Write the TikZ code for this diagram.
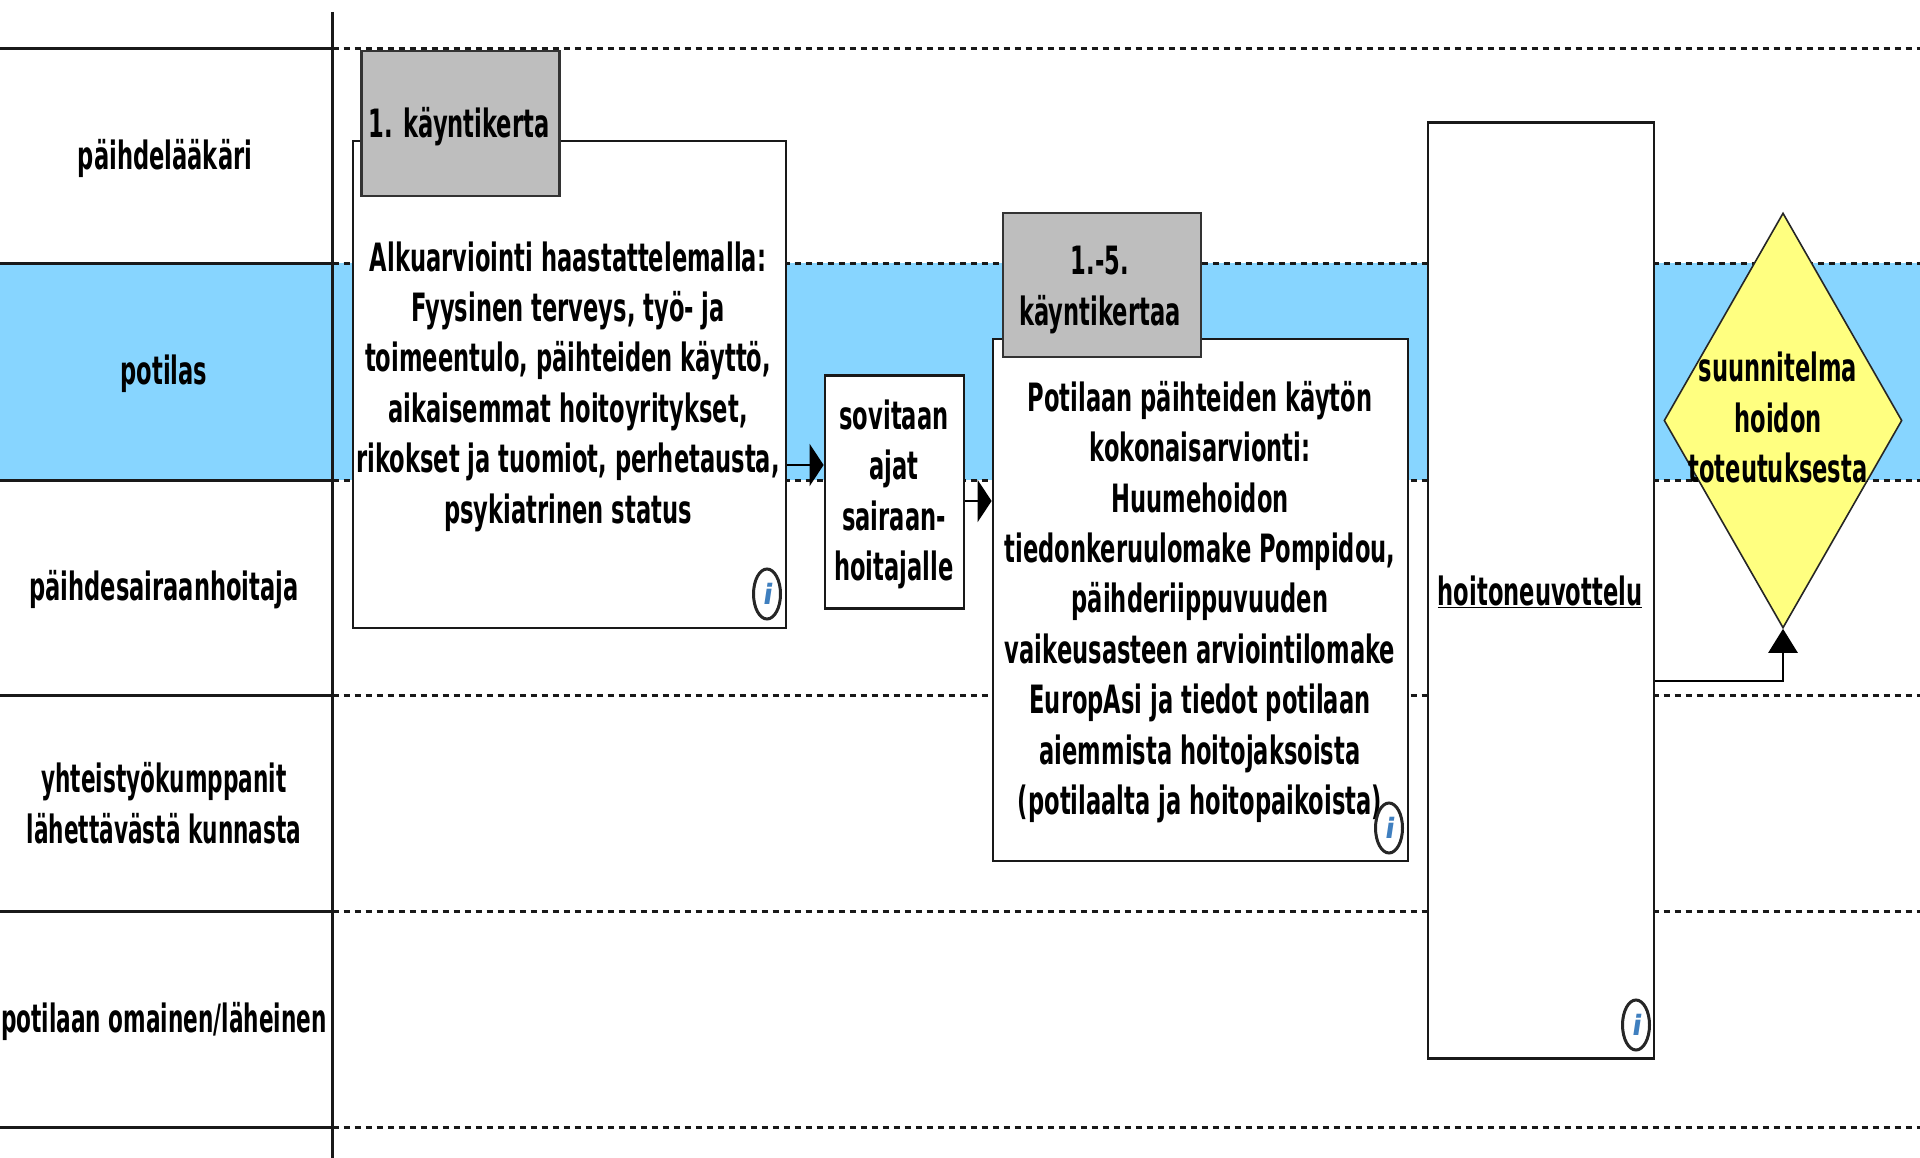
\documentclass[tikz,border=0pt]{standalone}
\usepackage{fontspec}
\usetikzlibrary{arrows.meta,shapes.geometric}
\newfontfamily\flowfont[FakeStretch=0.58]{DejaVu Sans Bold}
\newfontfamily\narrowfont[FakeStretch=0.555]{DejaVu Sans Bold}
\newfontfamily\infofont[FakeSlant=0.15]{DejaVu Sans Bold}
\definecolor{bandblue}{HTML}{87D5FF}
\definecolor{graybox}{HTML}{BEBEBE}
\definecolor{decisionyellow}{HTML}{FFFF80}
\definecolor{infoblue}{HTML}{3F7FBF}
\tikzset{
  x=1pt,y=-1pt,
  txt/.style={font=\flowfont\fontsize{39}{50.4}\selectfont,align=center,inner sep=0pt,text=black},
  lanelabel/.style={txt},
  narrowlabel/.style={txt,font=\narrowfont\fontsize{39}{50.4}\selectfont},
  solidrule/.style={line width=3pt,draw=black!90},
  dashrule/.style={line width=3pt,draw=black!90,dash pattern=on 6.5pt off 4.5pt},
  taskbox/.style={draw=black!90,fill=white,line width=2.8pt,rectangle,inner sep=0pt,minimum width=#1},
  graytab/.style={draw=black!80,fill=graybox,line width=2.8pt,rectangle,inner sep=0pt,minimum width=198pt,minimum height=#1},
  infoicon/.style={ellipse,draw=black!85,fill=white,line width=3pt,inner sep=0pt,minimum width=27pt,minimum height=50pt,font=\infofont\fontsize{28}{28}\selectfont,text=infoblue},
  sidearrow/.style={line width=2.6pt,-{Triangle[length=14pt,width=42pt]}},
  uparrow/.style={line width=2.6pt,-{Triangle[length=24pt,width=29pt]}},
}
\begin{document}
\begin{tikzpicture}
\useasboundingbox (0,0) rectangle (1920,1158);
\fill[white] (0,0) rectangle (1920,1158);
\fill[bandblue] (0,263.5) rectangle (1920,480);

\coordinate (topv) at (332.5,12);
\coordinate (botv) at (332.5,1158);
\draw[solidrule] (topv) -- (botv);
\foreach \n/\y in {a/49,b/263.5,c/480,d/695.5,e/911,f/1127}{
  \coordinate (l\n) at (0,\y);
  \coordinate (m\n) at (332.5,\y);
  \coordinate (r\n) at (1920,\y);
  \draw[solidrule] (l\n) -- (m\n);
  \draw[dashrule] (m\n) -- (r\n);
}

\node[lanelabel] (lane1) at (165,158) {päihdelääkäri};
\node[lanelabel] (lane2) at (164,374) {potilas};
\node[lanelabel] (lane3) at (164,590) {päihdesairaanhoitaja};
\node[narrowlabel] (lane4) at (164,803) {yhteistyökumppanit\\lähettävästä kunnasta};
\node[narrowlabel] (lane5) at (164,1021) {potilaan omainen/läheinen};

\node[taskbox=433pt,minimum height=487pt] (alku) at (569.5,384.5) {};
\node[txt] (alkutext) at (568,386.5) {Alkuarviointi haastattelemalla:\\Fyysinen terveys, työ- ja\\toimeentulo, päihteiden käyttö,\\aikaisemmat hoitoyritykset,\\rikokset ja tuomiot, perhetausta,\\psykiatrinen status};
\node[graytab=145pt] (tab1) at (460.5,123.5) {};
\node[txt] (tab1text) at (459,127) {1. käyntikerta};
\node[infoicon] (info1) at (767,594) {i};

\node[taskbox=139pt,minimum height=233pt] (ajat) at (894.5,492) {};
\node[txt] (ajattext) at (894,494.5) {sovitaan\\ajat\\sairaan-\\hoitajalle};

\node[taskbox=415pt,minimum height=522pt] (arvio) at (1200.5,600) {};
\node[txt] (arviotext) at (1200,602) {Potilaan päihteiden käytön\\kokonaisarvionti:\\Huumehoidon\\tiedonkeruulomake Pompidou,\\päihderiippuvuuden\\vaikeusasteen arviointilomake\\EuropAsi ja tiedot potilaan\\aiemmista hoitojaksoista\\(potilaalta ja hoitopaikoista)};
\node[graytab=144pt] (tab2) at (1102,285) {};
\node[txt] (tab2text) at (1100,290) {1.-5.\\käyntikertaa};
\node[infoicon] (info2) at (1389,828) {i};

\node[taskbox=226pt,minimum height=936pt] (neuvo) at (1541,590.5) {};
\node[txt] (neuvotext) at (1540,592) {\underline{hoitoneuvottelu}};
\node[infoicon] (info3) at (1636,1025) {i};

\node[diamond,draw=black!85,fill=decisionyellow,line width=1.6pt,inner sep=0pt,minimum width=238pt,minimum height=415pt] (dec) at (1783,420.5) {};
\node[txt] (dectext) at (1778,417.5) {suunnitelma\\hoidon\\toteutuksesta};

\draw[sidearrow] (alku.east |- 0,465) -- (ajat.west |- 0,465);
\draw[sidearrow] (ajat.east |- 0,501) -- (arvio.west |- 0,501);
\draw[uparrow] (neuvo.east |- 0,681) -| (dec.south);
\end{tikzpicture}
\end{document}
